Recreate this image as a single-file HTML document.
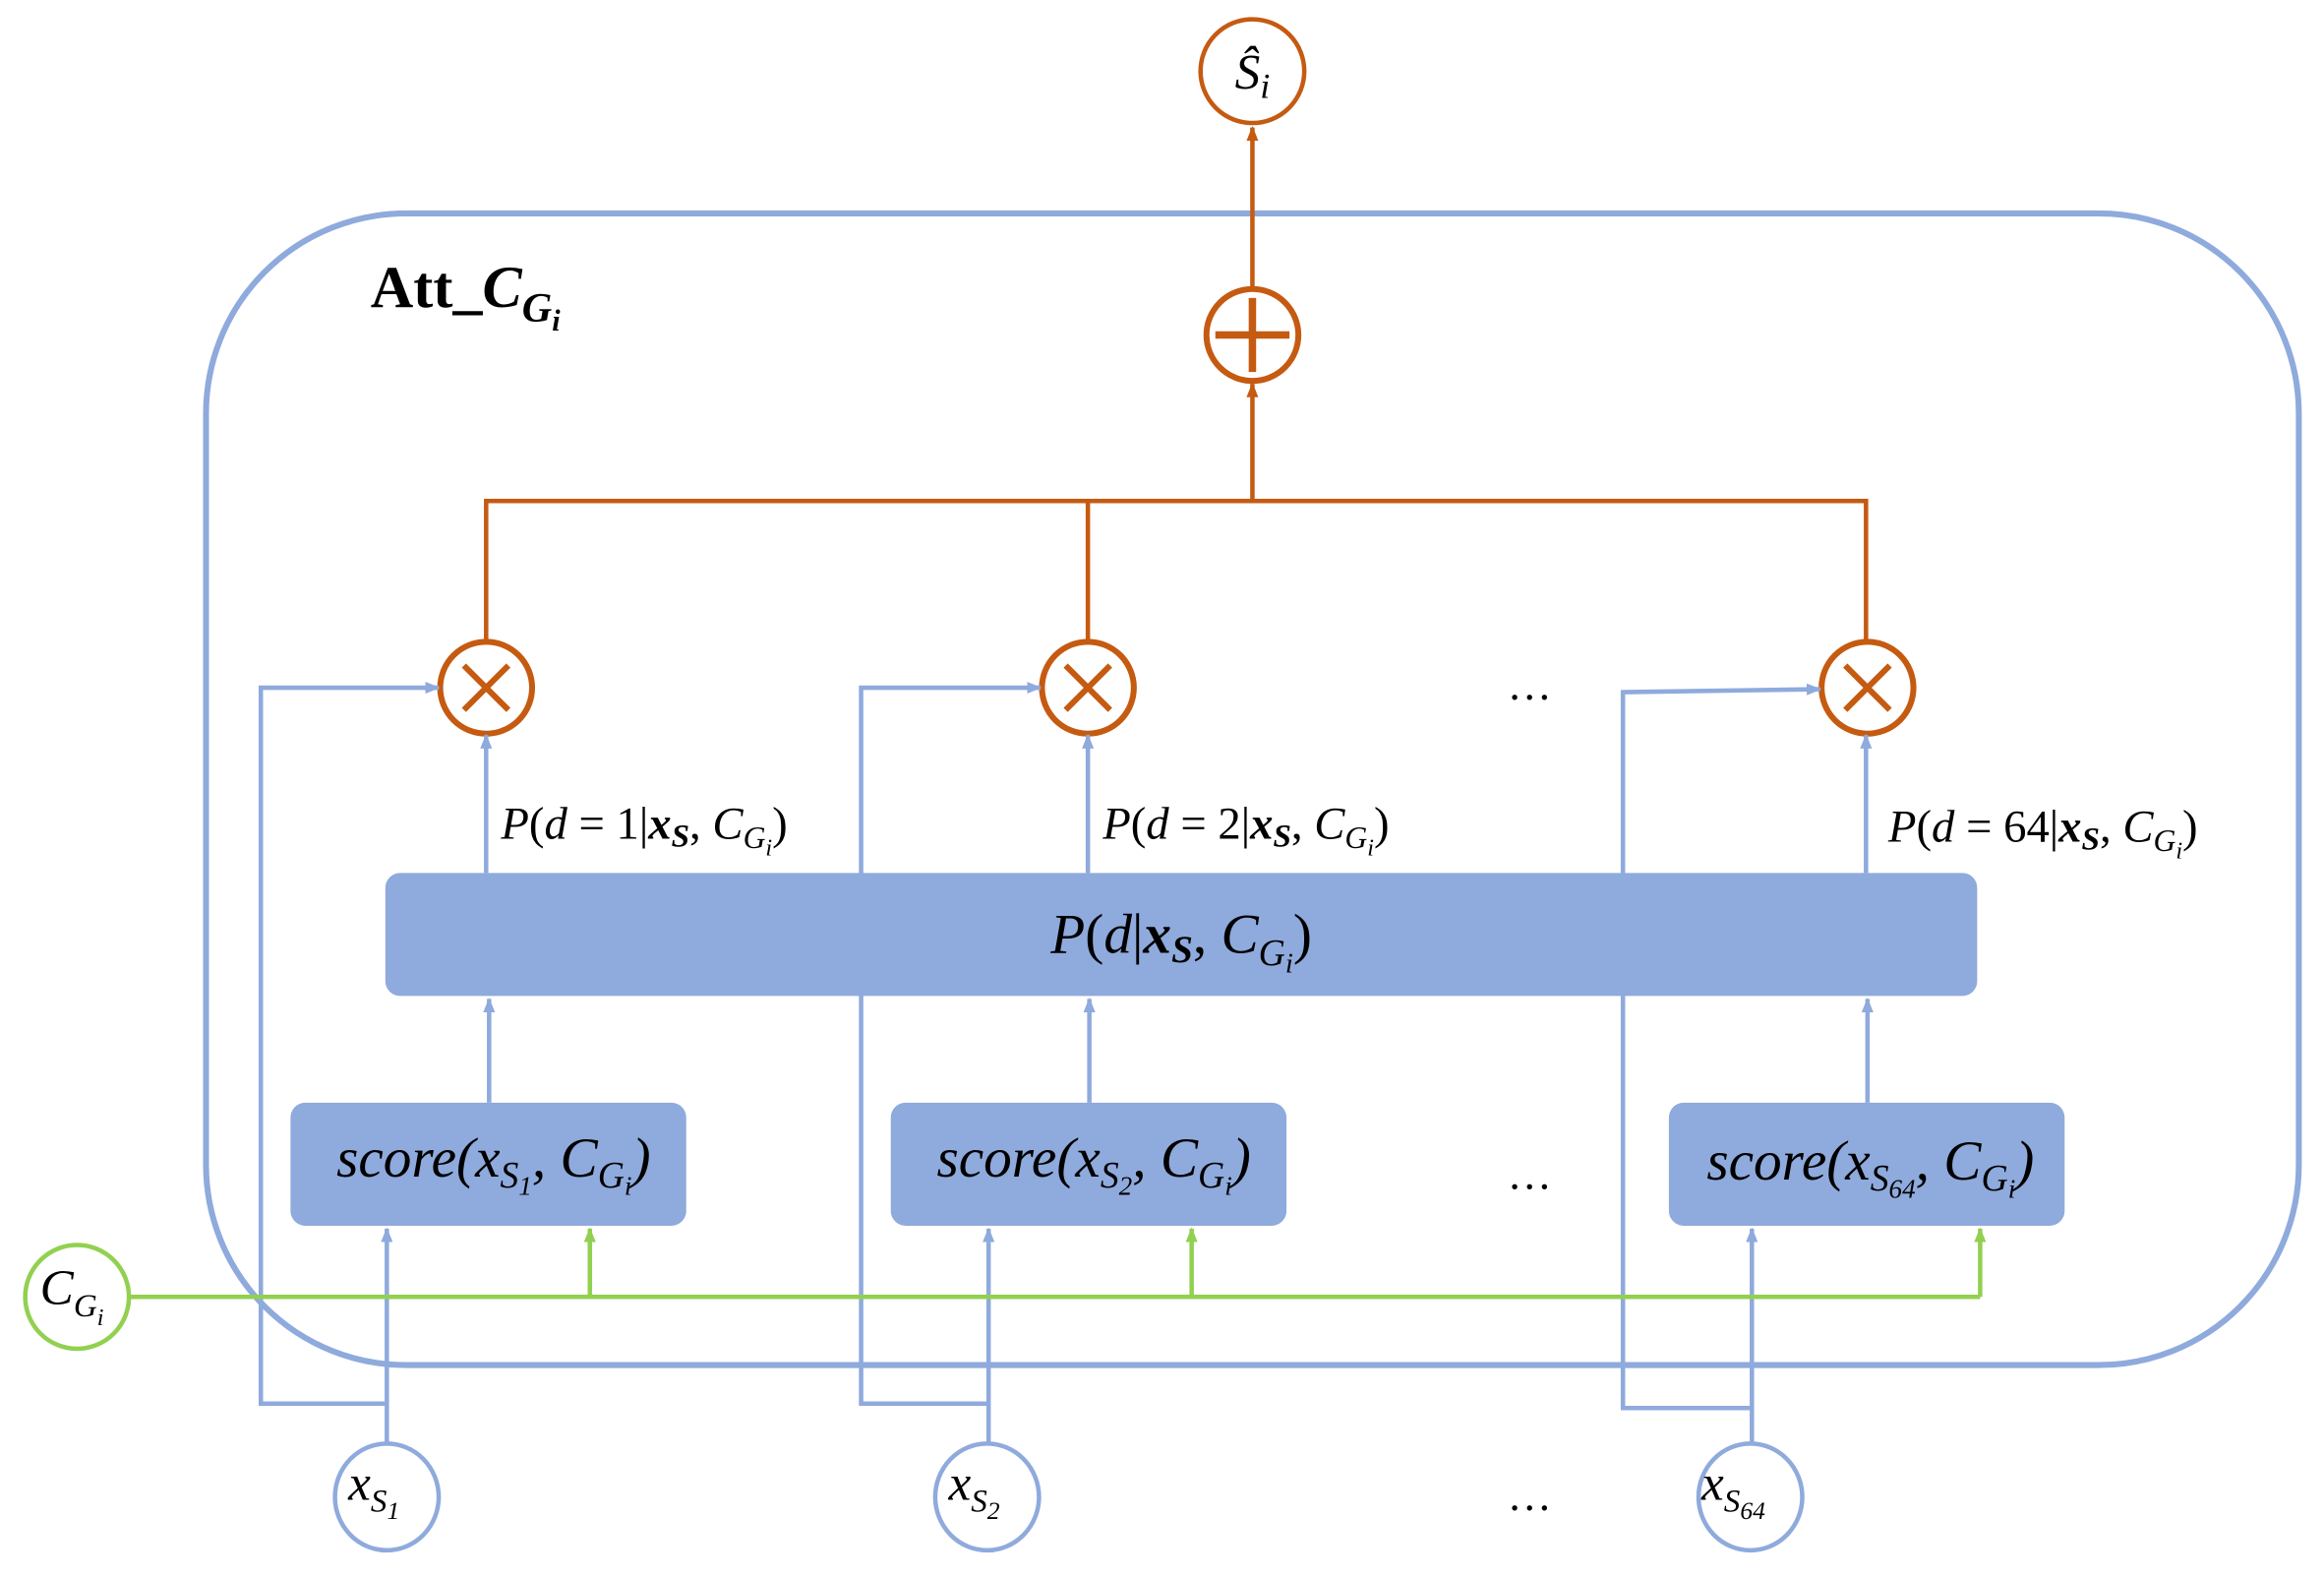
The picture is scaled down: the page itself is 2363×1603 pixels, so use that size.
<!DOCTYPE html>
<html><head><meta charset="utf-8"><style>
html,body{margin:0;padding:0;background:#fff;}
svg{display:block;}
text{font-family:"Liberation Serif",serif;}
.m{font-style:italic;}
</style></head><body>
<svg width="2363" height="1603" viewBox="0 0 1568 1064" preserveAspectRatio="none" xmlns="http://www.w3.org/2000/svg">
<defs>
<marker id="ab" markerWidth="10" markerHeight="10" refX="9" refY="5" orient="auto" markerUnits="userSpaceOnUse"><path d="M0,1 L10,5 L0,9 z" fill="#8faadc"/></marker>
<marker id="ao" markerWidth="10" markerHeight="10" refX="9" refY="5" orient="auto" markerUnits="userSpaceOnUse"><path d="M0,1 L10,5 L0,9 z" fill="#c55a11"/></marker>
<marker id="ag" markerWidth="10" markerHeight="10" refX="9" refY="5" orient="auto" markerUnits="userSpaceOnUse"><path d="M0,1 L10,5 L0,9 z" fill="#92d050"/></marker>
</defs>
<rect x="139" y="144" width="1412" height="777" rx="135" ry="135" fill="none" stroke="#8faadc" stroke-width="4"/>
<text x="250" y="207" font-size="40" font-weight="bold">Att_<tspan class="m">C</tspan><tspan class="m" font-size="28" dy="10">G</tspan><tspan class="m" font-size="20" dy="6">i</tspan></text>

<g stroke="#c55a11" stroke-width="3" fill="none">
<line x1="845" y1="195" x2="845" y2="86" marker-end="url(#ao)"/>
<line x1="845" y1="338" x2="845" y2="259" marker-end="url(#ao)"/>
<polyline points="328,433 328,338 1259,338 1259,433"/>
<line x1="734" y1="338" x2="734" y2="433"/>
</g>
<circle cx="845" cy="48" r="35" fill="#fff" stroke="#c55a11" stroke-width="3"/>
<text x="845" y="60" font-size="34" class="m" text-anchor="middle">Ŝ<tspan font-size="24" dy="6">i</tspan></text>
<circle cx="845" cy="226" r="31" fill="#fff" stroke="#c55a11" stroke-width="4"/>
<g stroke="#c55a11" stroke-width="5"><line x1="820" y1="226" x2="870" y2="226"/><line x1="845" y1="201" x2="845" y2="251"/></g>
<g fill="#fff" stroke="#c55a11" stroke-width="4">
<circle cx="328" cy="464" r="31"/><circle cx="734" cy="464" r="31"/><circle cx="1260" cy="464" r="31"/>
</g>
<g stroke="#c55a11" stroke-width="4">
<path d="M313,449 L343,479 M343,449 L313,479"/>
<path d="M719,449 L749,479 M749,449 L719,479"/>
<path d="M1245,449 L1275,479 M1275,449 L1245,479"/>
</g>

<g stroke="#8faadc" stroke-width="3" fill="none">
<line x1="328" y1="589" x2="328" y2="496" marker-end="url(#ab)"/>
<line x1="734" y1="589" x2="734" y2="496" marker-end="url(#ab)"/>
<line x1="1259" y1="589" x2="1259" y2="496" marker-end="url(#ab)"/>
<line x1="330" y1="744" x2="330" y2="674" marker-end="url(#ab)"/>
<line x1="735" y1="744" x2="735" y2="674" marker-end="url(#ab)"/>
<line x1="1260" y1="744" x2="1260" y2="674" marker-end="url(#ab)"/>
<line x1="261" y1="975" x2="261" y2="829" marker-end="url(#ab)"/>
<line x1="667" y1="975" x2="667" y2="829" marker-end="url(#ab)"/>
<line x1="1182" y1="975" x2="1182" y2="829" marker-end="url(#ab)"/>
<polyline points="261,947 176,947 176,464 296,464" marker-end="url(#ab)"/>
<polyline points="667,947 581,947 581,464 702,464" marker-end="url(#ab)"/>
<polyline points="1182,950 1095,950 1095,467 1228,465" marker-end="url(#ab)"/>
</g>

<rect x="260" y="589" width="1074" height="83" rx="10" fill="#8faadc"/>
<text x="797" y="643" font-size="38" text-anchor="middle"><tspan class="m">P</tspan>(<tspan class="m">d</tspan>|<tspan font-weight="bold" class="m">x</tspan><tspan font-weight="bold" class="m" font-size="26" dy="6">S</tspan><tspan dy="-6">, </tspan><tspan class="m">C</tspan><tspan class="m" font-size="25" dy="8">G</tspan><tspan class="m" font-size="19" dy="5">i</tspan><tspan dy="-13">)</tspan></text>

<g font-size="31">
<text x="338" y="566"><tspan class="m">P</tspan>(<tspan class="m">d</tspan> = 1|<tspan class="m" font-weight="bold">x</tspan><tspan class="m" font-weight="bold" font-size="22" dy="5">S</tspan><tspan dy="-5">, </tspan><tspan class="m">C</tspan><tspan class="m" font-size="21" dy="6">G</tspan><tspan class="m" font-size="16" dy="5">i</tspan><tspan dy="-11">)</tspan></text>
<text x="744" y="566"><tspan class="m">P</tspan>(<tspan class="m">d</tspan> = 2|<tspan class="m" font-weight="bold">x</tspan><tspan class="m" font-weight="bold" font-size="22" dy="5">S</tspan><tspan dy="-5">, </tspan><tspan class="m">C</tspan><tspan class="m" font-size="21" dy="6">G</tspan><tspan class="m" font-size="16" dy="5">i</tspan><tspan dy="-11">)</tspan></text>
<text x="1274" y="568"><tspan class="m">P</tspan>(<tspan class="m">d</tspan> = 64|<tspan class="m" font-weight="bold">x</tspan><tspan class="m" font-weight="bold" font-size="22" dy="5">S</tspan><tspan dy="-5">, </tspan><tspan class="m">C</tspan><tspan class="m" font-size="21" dy="6">G</tspan><tspan class="m" font-size="16" dy="5">i</tspan><tspan dy="-11">)</tspan></text>
</g>

<g fill="#8faadc">
<rect x="196" y="744" width="267" height="83" rx="10"/>
<rect x="601" y="744" width="267" height="83" rx="10"/>
<rect x="1126" y="744" width="267" height="83" rx="10"/>
</g>
<g font-size="38" class="m">
<text x="333" y="794" text-anchor="middle">score(x<tspan font-size="25" dy="7">S</tspan><tspan font-size="18" dy="5">1</tspan><tspan dy="-12">, C</tspan><tspan font-size="25" dy="7">G</tspan><tspan font-size="18" dy="5">i</tspan><tspan dy="-12">)</tspan></text>
<text x="738" y="794" text-anchor="middle">score(x<tspan font-size="25" dy="7">S</tspan><tspan font-size="18" dy="5">2</tspan><tspan dy="-12">, C</tspan><tspan font-size="25" dy="7">G</tspan><tspan font-size="18" dy="5">i</tspan><tspan dy="-12">)</tspan></text>
<text x="1262" y="796" text-anchor="middle">score(x<tspan font-size="25" dy="7">S</tspan><tspan font-size="18" dy="5">64</tspan><tspan dy="-12">, C</tspan><tspan font-size="25" dy="7">G</tspan><tspan font-size="18" dy="5">i</tspan><tspan dy="-12">)</tspan></text>
</g>

<g stroke="#92d050" stroke-width="3" fill="none">
<line x1="88" y1="875" x2="1336" y2="875"/>
<line x1="398" y1="875" x2="398" y2="829" marker-end="url(#ag)"/>
<line x1="804" y1="875" x2="804" y2="829" marker-end="url(#ag)"/>
<line x1="1336" y1="875" x2="1336" y2="829" marker-end="url(#ag)"/>
</g>
<circle cx="52" cy="875" r="35" fill="#fff" stroke="#92d050" stroke-width="3"/>
<text x="27" y="880" font-size="34" class="m">C<tspan font-size="22" dy="8">G</tspan><tspan font-size="16" dy="6">i</tspan></text>

<g fill="#fff" stroke="#8faadc" stroke-width="3">
<ellipse cx="261" cy="1010" rx="35" ry="36"/>
<ellipse cx="666" cy="1010" rx="35" ry="36"/>
<ellipse cx="1181" cy="1010" rx="35" ry="36"/>
</g>
<g font-size="34" class="m">
<text x="235" y="1012">x<tspan font-size="22" dy="8">S</tspan><tspan font-size="17" dy="5">1</tspan></text>
<text x="640" y="1012">x<tspan font-size="22" dy="8">S</tspan><tspan font-size="17" dy="5">2</tspan></text>
<text x="1148" y="1012">x<tspan font-size="22" dy="8">S</tspan><tspan font-size="17" dy="5">64</tspan></text>
</g>

<g font-size="30" text-anchor="middle">
<text x="1032" y="472">…</text>
<text x="1032" y="802">…</text>
<text x="1032" y="1019">…</text>
</g>
</svg>
</body></html>
